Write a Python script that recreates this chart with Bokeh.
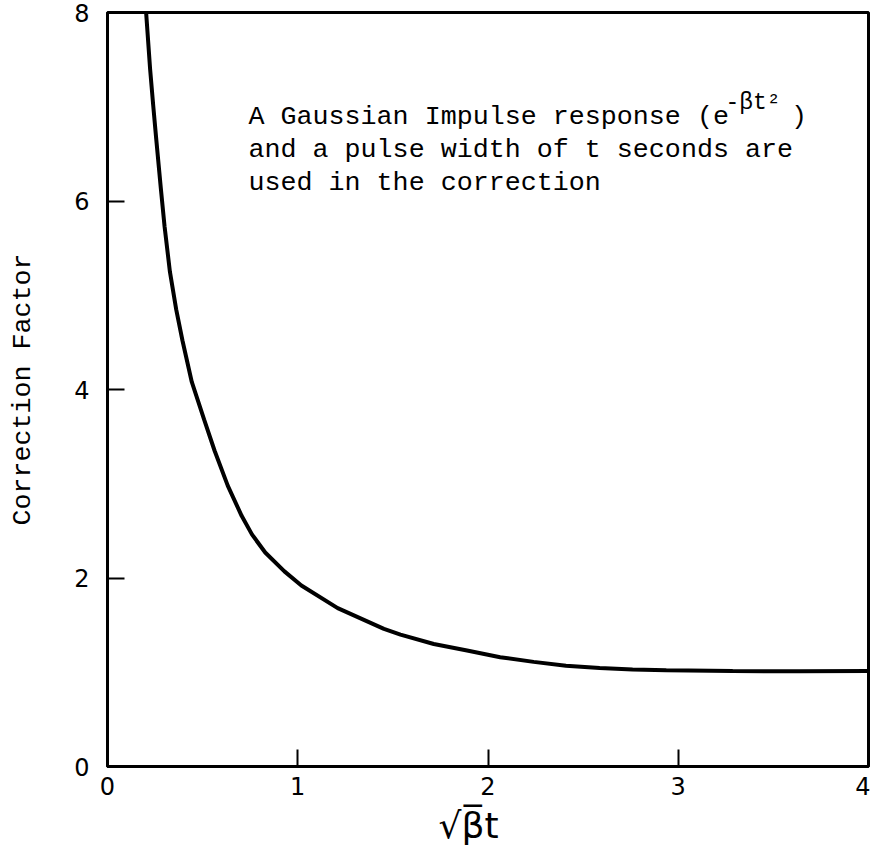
from bokeh.plotting import figure
from bokeh.models import Range1d, FixedTicker, Label, Title
from bokeh.embed import file_html
from bokeh.resources import INLINE

# Data
sqrt_beta_t = [0.203, 0.224, 0.240, 0.256, 0.280, 0.300, 0.328, 0.361, 0.394, 0.443,
               0.508, 0.563, 0.632, 0.705, 0.760, 0.829, 0.930, 1.019, 1.210, 1.453,
               1.540, 1.715, 1.890, 2.064, 2.240, 2.410, 2.587, 2.760, 2.937, 3.286,
               3.635, 4.0]
correction_factor = [8.00, 7.40, 7.02, 6.66, 6.14, 5.73, 5.25, 4.85, 4.52, 4.08,
                     3.68, 3.35, 2.98, 2.66, 2.46, 2.27, 2.07, 1.92, 1.68, 1.46,
                     1.40, 1.30, 1.23, 1.16, 1.11, 1.07, 1.045, 1.03, 1.02, 1.012,
                     1.01, 1.012]
x_ticks = [0, 1, 2, 3, 4]
y_ticks = [0, 2, 4, 6, 8]
note_lines = ["A Gaussian Impulse response (e",
              "and a pulse width of t seconds are",
              "used in the correction"]
note_exponent = "-βt²"
note_close = ")"
x_label = "√β\u0305t"
y_label = "Correction Factor"

MONO = "Liberation Mono"
SANS = "DejaVu Sans"

p = figure(frame_width=761, frame_height=754,
           x_range=Range1d(0, 4), y_range=Range1d(0, 8),
           output_backend="svg", toolbar_location=None,
           min_border_left=107, min_border_right=2,
           min_border_top=12, min_border_bottom=80,
           background_fill_color="white", border_fill_color="white")

p.xgrid.visible = False
p.ygrid.visible = False
p.outline_line_color = "black"
p.outline_line_width = 3
p.outline_line_alpha = 1.0

for ax, ticks in ((p.xaxis, x_ticks), (p.yaxis, y_ticks)):
    ax.ticker = FixedTicker(ticks=ticks)
    ax.major_tick_in = 17
    ax.major_tick_out = 0
    ax.minor_tick_line_color = None
    ax.axis_line_width = 3
    ax.axis_line_color = "black"
    ax.major_tick_line_width = 2
    ax.major_tick_line_color = "black"
    ax.major_label_text_font = SANS
    ax.major_label_text_font_size = "24px"
    ax.major_label_text_color = "black"

p.xaxis.major_label_standoff = 10
p.yaxis.major_label_standoff = 18

p.yaxis.axis_label = y_label
p.yaxis.axis_label_text_font = MONO
p.yaxis.axis_label_text_font_style = "normal"
p.yaxis.axis_label_text_color = "black"
p.yaxis.axis_label_text_font_size = "26.7px"
p.yaxis.axis_label_standoff = 33

# x axis title, placed slightly left of centre as in the reference
p.add_layout(Title(text=x_label, align="left", offset=331,
                   text_font=SANS, text_font_style="normal",
                   text_font_size="36px", text_color="black"), "below")

p.line(sqrt_beta_t, correction_factor, line_color="black", line_width=4)

# Annotation text (data coordinates)
base_y = [6.886, 6.546, 6.196]
for txt, yy in zip(note_lines, base_y):
    p.add_layout(Label(x=0.741, y=yy, text=txt, text_font=MONO,
                       text_font_size="26.7px", text_color="black",
                       text_baseline="alphabetic"))
p.add_layout(Label(x=3.248, y=7.035, text=note_exponent, text_font=MONO,
                   text_font_size="23px", text_color="black",
                   text_baseline="alphabetic"))
p.add_layout(Label(x=3.593, y=6.886, text=note_close, text_font=MONO,
                   text_font_size="26.7px", text_color="black",
                   text_baseline="alphabetic"))

open("out.html", "w").write(file_html(p, INLINE))
